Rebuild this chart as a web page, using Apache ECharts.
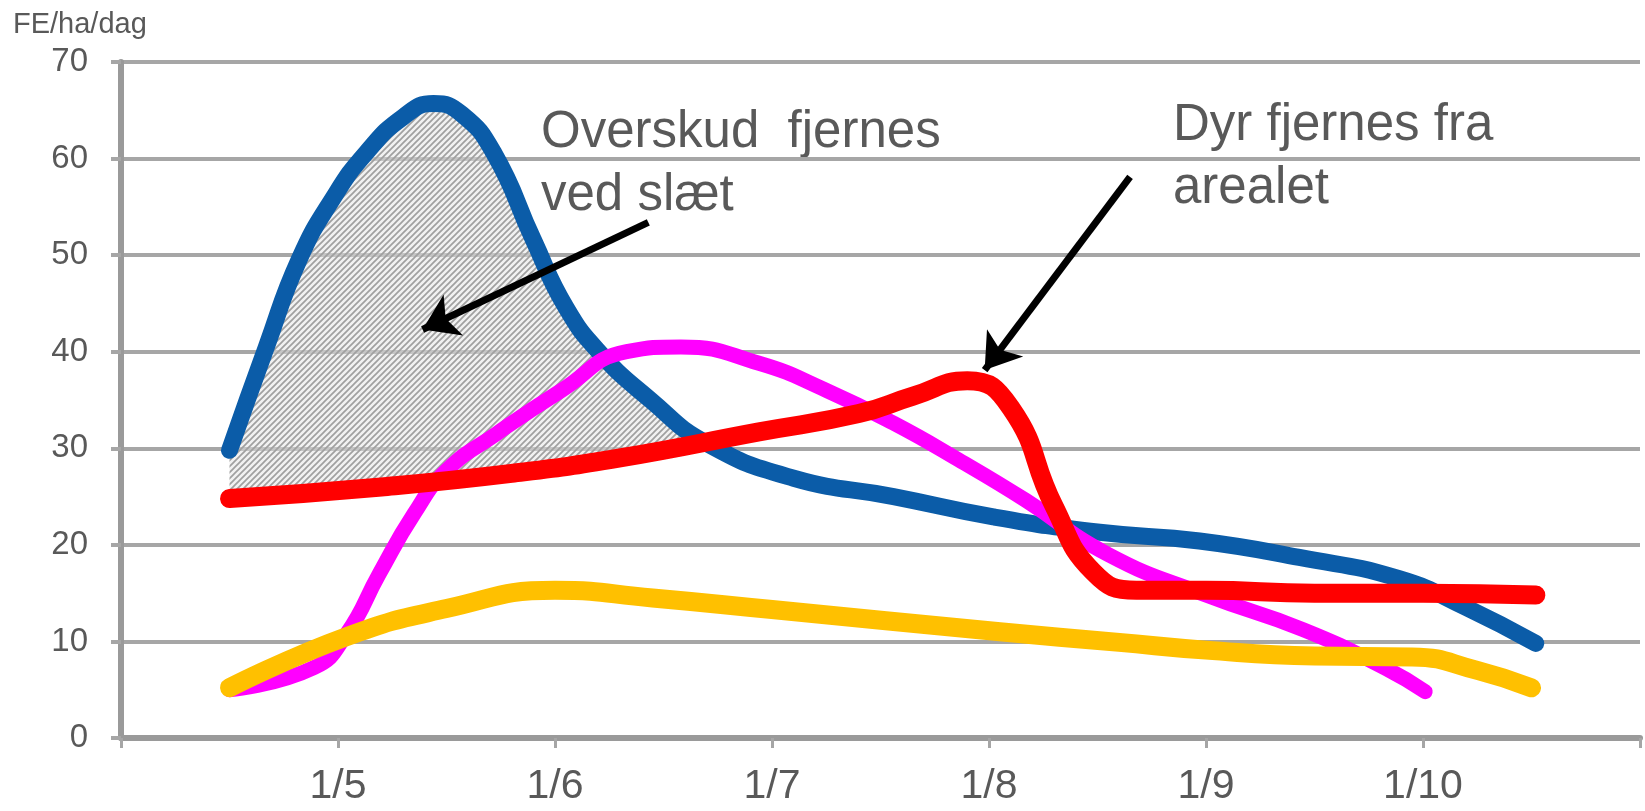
<!DOCTYPE html>
<html>
<head>
<meta charset="utf-8">
<script src="https://cdn.jsdelivr.net/npm/echarts@6/dist/echarts.min.js"></script>
<style>
    html, body { margin: 0; padding: 0; background: #ffffff; }
    #chart { width: 1645px; height: 811px; }
</style>
</head>
<body>
<div id="chart"></div>
<script>
// x is counted in months from 1/4 (0) to 1/11 (7)
var xLabels = ['', '1/5', '1/6', '1/7', '1/8', '1/9', '1/10', ''];
var yMin = 0;
var yMax = 70;
var yStep = 10;
var yTitle = 'FE/ha/dag';

// grass growth (blue)
var blueLine = [
    [0.5, 29.8], [0.67, 40.5], [0.82, 49.5], [0.98, 56], [1.13, 60.6], [1.3, 64.3],
    [1.44, 65.7], [1.57, 64.6], [1.72, 60.5], [1.9, 51.6], [2.05, 44.6], [2.21, 39.8],
    [2.44, 35], [2.7, 30.5], [3.1, 26.9], [3.56, 25], [4.02, 22.9], [4.51, 21.3],
    [4.97, 20.4], [5.43, 18.7], [5.89, 16.5], [6.2, 13.5], [6.52, 9.8]
];

// magenta
var pinkLine = [
    [0.5, 5.0], [0.89, 7.3], [1.04, 10.8], [1.19, 17], [1.35, 23.2], [1.5, 27.7],
    [1.73, 31.5], [2.03, 36], [2.33, 40], [2.58, 40.5], [2.94, 38.8], [3.25, 36],
    [3.56, 32.6], [3.86, 28.8], [4.17, 24.6], [4.55, 19], [5.0, 14.8], [5.45, 11.2],
    [5.83, 7.2], [6.01, 4.8]
];

// yellow
var yellowLine = [
    [0.5, 5.2], [1.04, 10.5], [1.5, 13.4], [2.0, 15.3], [2.45, 14.5], [3.0, 13.3],
    [4.05, 11.0], [4.6, 9.9], [5.0, 9.1], [5.5, 8.5], [5.95, 8.4], [6.25, 7.0],
    [6.5, 5.2]
];

// animal need (red)
var redLine = [
    [0.5, 24.8], [1.2, 26.0], [1.8, 27.4], [2.3, 29.0], [2.94, 31.7], [3.4, 33.6],
    [3.65, 35.4], [3.9, 37.0], [4.1, 34.2], [4.3, 24.0], [4.48, 17.2], [4.68, 15.3],
    [5.0, 15.3], [5.5, 15.0], [6.0, 15.0], [6.52, 14.8]
];

// red read at the x of the first blue points, bottom of the hatched surplus
var hatchBase = [24.8, 25.1, 25.4, 25.7, 25.9, 26.2, 26.5, 26.8, 27.2, 27.6, 28.1, 28.6, 29.5, 30.5];

// annotation arrows, [from, to] in data units
var arrowLines = [
    [[2.43, 53.4], [1.39, 42.3]],
    [[4.65, 58.1], [3.98, 38.1]]
];

var noteLeft = 'Overskud  fjernes\nved slæt';
var noteRight = 'Dyr fjernes fra\narealet';

var textGrey = '#595959';
var axisGrey = '#9a9a9a';
var gridGrey = '#a6a6a6';
var fontName = '"Liberation Sans", Arial, sans-serif';
var smoothVal = 0.5;


// diagonal hatch pattern
function makeHatch() {
    var c = document.createElement('canvas');
    c.width = 6;
    c.height = 6;
    var ctx = c.getContext('2d');
    ctx.fillStyle = 'rgba(228,228,228,0.5)';
    ctx.fillRect(0, 0, 6, 6);
    ctx.strokeStyle = '#a0a0a0';
    ctx.lineWidth = 1.7;
    ctx.beginPath();
    ctx.moveTo(-3, 3); ctx.lineTo(3, -3);
    ctx.moveTo(0, 6); ctx.lineTo(6, 0);
    ctx.moveTo(3, 9); ctx.lineTo(9, 3);
    ctx.stroke();
    return c;
}

function lineSeries(_name, _data, _color, _width) {
    return {
        name: _name,
        type: 'line',
        data: _data,
        smooth: smoothVal,
        symbol: 'none',
        silent: true,
        lineStyle: { color: _color, width: _width, cap: 'round', join: 'round' }
    };
}

var myChart = echarts.init(document.getElementById('chart'), null, { renderer: 'canvas' });

// the hatched band is stacked on top of an invisible red base.
// value first in each item so the stack goes on the y dimension
var hatchBaseData = [];
var hatchGapData = [];
for (var i = 0; i < hatchBase.length; i++) {
    hatchBaseData.push([hatchBase[i], blueLine[i][0]]);
    hatchGapData.push([blueLine[i][1] - hatchBase[i], blueLine[i][0]]);
}

var arrowData = arrowLines.map(function (a) {
    return [{ coord: a[0] }, { coord: a[1] }];
});

var option = {
    backgroundColor: '#ffffff',
    animation: false,
    textStyle: { fontFamily: fontName },
    grid: { left: 121, right: 5, top: 62, bottom: 73, containLabel: false },
    xAxis: {
        type: 'value',
        min: 0,
        max: xLabels.length - 1,
        interval: 1,
        splitLine: { show: false },
        axisLine: { show: true, lineStyle: { color: axisGrey, width: 6 } },
        axisTick: { show: true, length: 10, lineStyle: { color: gridGrey, width: 3 } },
        axisLabel: {
            color: textGrey,
            fontSize: 41,
            fontFamily: fontName,
            margin: 28,
            formatter: function (value) { return xLabels[value] || ''; }
        }
    },
    yAxis: {
        type: 'value',
        min: yMin,
        max: yMax,
        interval: yStep,
        splitLine: { show: true, lineStyle: { color: gridGrey, width: 4 } },
        axisLine: { show: true, lineStyle: { color: axisGrey, width: 6 } },
        axisTick: { show: true, length: 10, lineStyle: { color: gridGrey, width: 4 } },
        axisLabel: {
            color: textGrey,
            fontSize: 33,
            fontFamily: fontName,
            margin: 33
        }
    },
    graphic: [
        {
            type: 'text', left: 13, top: 10,
            style: { text: yTitle, fill: textGrey, font: '29px ' + fontName }
        },
        {
            type: 'text', x: 541, y: 101,
            style: { text: noteLeft, fill: textGrey, font: '51px ' + fontName, lineHeight: 63 }
        },
        {
            type: 'text', x: 1173, y: 94,
            style: { text: noteRight, fill: textGrey, font: '51px ' + fontName, lineHeight: 63 }
        }
    ],
    series: [
        {
            type: 'line',
            stack: 'hatch',
            data: hatchBaseData,
            encode: { x: 1, y: 0 },
            smooth: smoothVal,
            symbol: 'none',
            silent: true,
            lineStyle: { opacity: 0 }
        },
        {
            type: 'line',
            stack: 'hatch',
            data: hatchGapData,
            encode: { x: 1, y: 0 },
            smooth: smoothVal,
            symbol: 'none',
            silent: true,
            lineStyle: { opacity: 0 },
            areaStyle: { color: { image: makeHatch(), repeat: 'repeat' }, opacity: 1 }
        },
        lineSeries('Tilvækst', blueLine, '#0b5ca8', 17),
        lineSeries('Magenta', pinkLine, '#ff00ff', 15),
        lineSeries('Gul', yellowLine, '#ffc000', 19),
        lineSeries('Behov', redLine, '#ff0000', 19),
        {
            type: 'line',
            data: [],
            silent: true,
            markLine: {
                silent: true,
                symbol: ['none', 'arrow'],
                symbolSize: 34,
                label: { show: false },
                lineStyle: { color: '#000000', width: 7, type: 'solid' },
                data: arrowData
            }
        }
    ]
};

myChart.setOption(option);
</script>
</body>
</html>
